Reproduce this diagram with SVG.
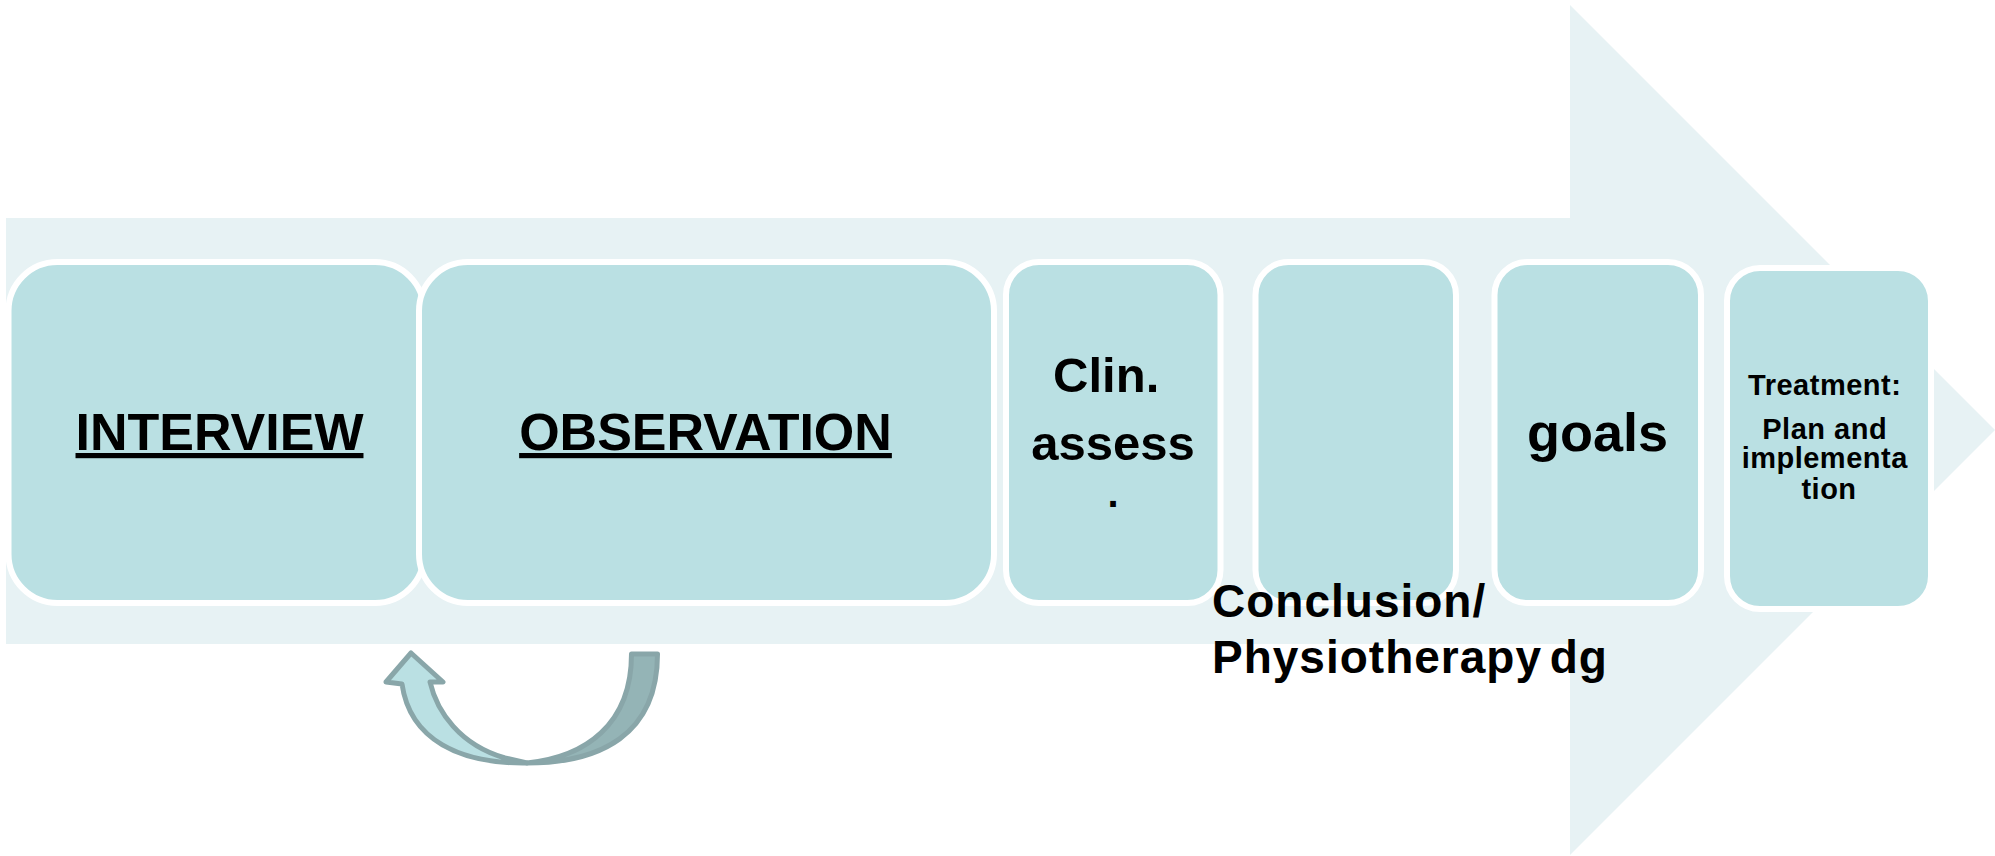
<svg xmlns="http://www.w3.org/2000/svg" width="1995" height="856" viewBox="0 0 1995 856">
  <style>
    .bg { fill: #e7f2f4; }
    .box { fill: #bae0e3; stroke: #ffffff; stroke-width: 6; }
    .t { font-family: "Liberation Sans", Arial, sans-serif; font-weight: bold; fill: #000000; }
    .big { font-size: 52px; text-decoration: underline; }
    .mid { font-size: 49px; }
    .dot { font-size: 40px; }
    .goal { font-size: 54px; }
    .small { font-size: 29px; letter-spacing: 0.5px; }
    .dx { font-size: 46px; letter-spacing: 1px; }
    .loop-light { fill: #bae0e3; stroke: #89a6a9; stroke-width: 5; stroke-linejoin: round; }
    .loop-dark { fill: #94b4b6; stroke: #89a6a9; stroke-width: 5; stroke-linejoin: round; }
  </style>

  <rect width="1995" height="856" fill="#ffffff"/>

  <!-- wide background arrow running left to right -->
  <polygon class="bg" points="6,218 1570,218 1570,5 1995,430 1570,855 1570,644 6,644"/>

  <g id="node-interview">
    <rect class="box" x="8.5" y="262" width="415.5" height="341" rx="49" ry="49"/>
    <text class="t big" x="219.5" y="450" text-anchor="middle">INTERVIEW</text>
  </g>

  <g id="node-observation">
    <rect class="box" x="419" y="262" width="575" height="341" rx="49" ry="49"/>
    <text class="t big" x="705.5" y="450" text-anchor="middle">OBSERVATION</text>
  </g>

  <g id="node-clin-assess">
    <rect class="box" x="1006" y="262" width="214.5" height="341" rx="33" ry="33"/>
    <text class="t mid" text-anchor="middle">
      <tspan x="1113" y="392">Clin.</tspan>
      <tspan x="1113" y="460">assess</tspan>
    </text>
    <text class="t dot" x="1113" y="507" text-anchor="middle">.</text>
  </g>

  <g id="node-conclusion">
    <rect class="box" x="1255.5" y="262" width="200.5" height="341" rx="33" ry="33"/>
  </g>

  <g id="node-goals">
    <rect class="box" x="1494.5" y="262" width="206.5" height="341" rx="33" ry="33"/>
    <text class="t goal" x="1597.5" y="451" text-anchor="middle">goals</text>
  </g>

  <g id="node-treatment">
    <rect class="box" x="1727" y="268" width="204" height="341" rx="33" ry="33"/>
    <text class="t small" text-anchor="middle">
      <tspan x="1829" y="395">Treatment:</tspan>
      <tspan x="1829" y="439">Plan and</tspan>
      <tspan x="1829" y="468">implementa</tspan>
      <tspan x="1829" y="499">tion</tspan>
    </text>
  </g>

  <!-- label for the conclusion step, overflowing its box -->
  <g id="label-conclusion">
    <text class="t dx">
      <tspan x="1212" y="617">Conclusion/</tspan>
      <tspan x="1212" y="673" word-spacing="-6">Physiotherapy dg</tspan>
    </text>
  </g>

  <g id="connectors">
    <!-- curved return arrow from observation back to interview -->
    <path class="loop-light" d="M 527,763 C 460,764 410,740 402,684 L 386,682 L 411,653 L 443,682 L 430,682 C 437,712 460,745 505,758 Z"/>
    <path class="loop-dark" d="M 657.5,654 C 657.5,735 600,763 527,763 C 585,757 631.5,725 631.5,654 Z"/>
  </g>
</svg>
